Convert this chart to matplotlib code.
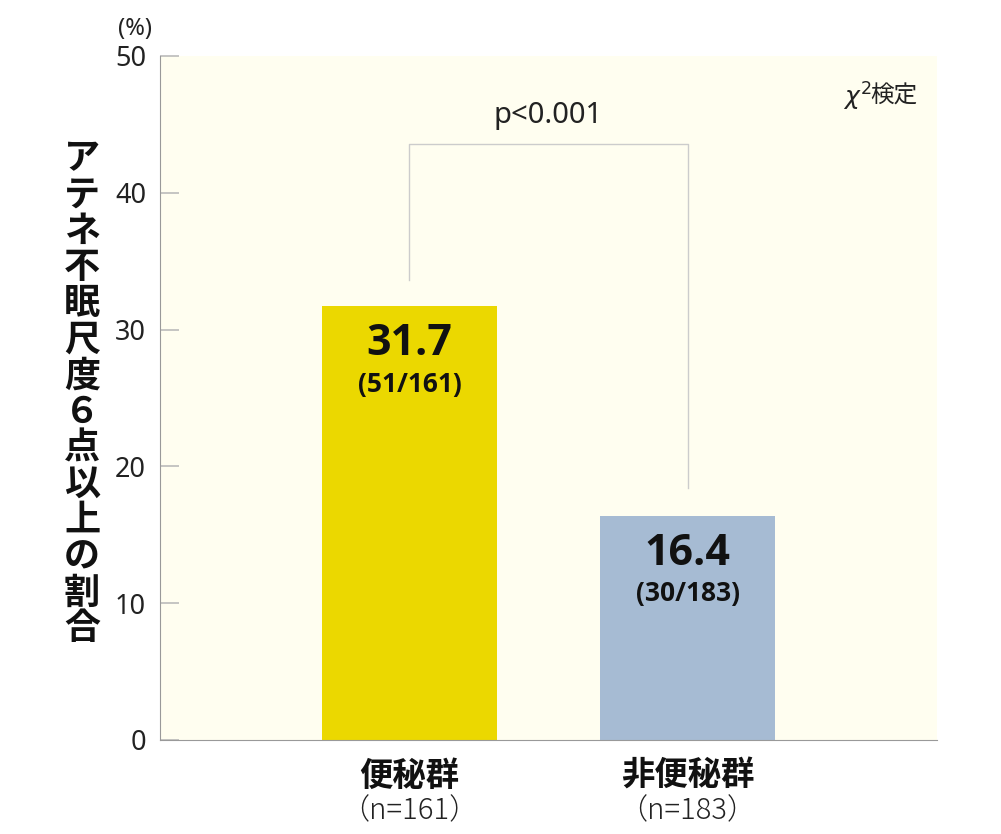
import matplotlib
matplotlib.use("Agg")
import matplotlib.pyplot as plt

plt.rcParams['font.family'] = ['Noto Sans CJK JP', 'DejaVu Sans']
LAT = ['Noto Sans', 'Noto Sans CJK JP', 'DejaVu Sans']
LATB = ['Open Sans', 'Noto Sans CJK JP', 'DejaVu Sans']

categories = ["便秘群", "非便秘群"]
n_labels = ["（n=161）", "（n=183）"]
values = [31.7, 16.4]
counts = ["(51/161)", "(30/183)"]
bar_colors = ["#EBD800", "#A6BBD3"]
yticks = [0, 10, 20, 30, 40, 50]
ylabel_text = "アテネ不眠尺度６点以上の割合"
p_text = "p<0.001"
bracket_left, bracket_top, bracket_right = 33.6, 43.6, 18.4

W, H = 1001, 834
fig = plt.figure(figsize=(W/100, H/100), dpi=100)
ax = fig.add_axes([160/W, 1-740/H, (937-160)/W, (740-56)/H])
ax.set_facecolor("#FFFEF0")

x = list(range(len(categories)))
ax.bar(x, values, width=0.63, color=bar_colors, zorder=2)
ax.set_xlim(-0.897, 1.897)
ax.set_ylim(0, 50)

for s in ["top", "right"]:
    ax.spines[s].set_visible(False)
ax.spines["left"].set_color("#999999")
ax.spines["bottom"].set_color("#999999")

ax.set_yticks(yticks)
ax.set_yticklabels([str(t) for t in yticks], fontsize=19.5, color="#222222",
                   fontweight="light", family=LAT)
ax.tick_params(axis="y", direction="in", length=14, width=1.2, color="#bbbbbb", pad=10)
ax.set_xticks([])

# value labels
for xi, v, c in zip(x, values, counts):
    ax.annotate(f"{v}", (xi, v), xytext=(0, -27), textcoords="offset points",
                ha="center", va="center", fontsize=31, fontweight="bold",
                color="#111111", family=LATB)
    ax.annotate(c, (xi, v), xytext=(0, -56), textcoords="offset points",
                ha="center", va="center", fontsize=19, fontweight="bold",
                color="#111111", family=LATB)

# category labels
for xi, cat, nl in zip(x, categories, n_labels):
    ax.annotate(cat, (xi, 0), xytext=(0, -26), textcoords="offset points",
                ha="center", va="center", fontsize=24, fontweight="bold", color="#111111",
                annotation_clip=False)
    ax.annotate(nl, (xi, 0), xytext=(0, -51), textcoords="offset points",
                ha="center", va="center", fontsize=21, color="#222222",
                fontweight="light", annotation_clip=False)

# bracket
ax.plot([0, 0, 1, 1], [bracket_left, bracket_top, bracket_top, bracket_right],
        color="#cccccc", lw=1.0, zorder=1)
ax.text(0.5, bracket_top + 1.0, p_text, ha="center", va="bottom", fontsize=21,
        color="#222222", fontweight="light", family=LAT)

# chi-square test note
fig.text(918/W, 1-96/H, "検定", ha="right", va="center", fontsize=17, color="#222222")
fig.text(871/W, 1-97/H, r"$\chi^{2}$", ha="right", va="center", fontsize=18, color="#222222")

# (%)
fig.text(135/W, 1-29/H, "(%)", ha="center", va="center", fontsize=17,
         color="#222222", fontweight="light", family=LAT)

# vertical y label
n = len(ylabel_text)
top, bottom = 159, 629
for i, ch in enumerate(ylabel_text):
    yy = top + (bottom - top) * i / (n - 1)
    fig.text(82/W, 1-yy/H, ch, ha="center", va="center", fontsize=26,
             fontweight="bold", color="#111111")

fig.savefig("out.png", dpi=100)
